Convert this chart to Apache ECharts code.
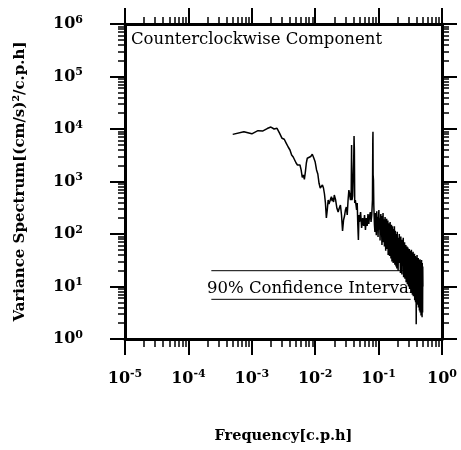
<!DOCTYPE html>
<html>
<head>
<meta charset="utf-8">
<script src="https://cdn.jsdelivr.net/npm/echarts@6/dist/echarts.min.js"></script>
<style>html,body{margin:0;padding:0;background:#fff}#c{width:461px;height:450px}</style>
</head>
<body>
<div id="c"></div>
<script>
// ---- data (frequency [c.p.h], variance spectrum) ----
var lowBand = [
  [0.0005,7900],[0.00075,8900],[0.001,8100],[0.00125,9300],[0.0015,9200],[0.00175,10200],[0.002,10900],[0.00225,10000],[0.0025,10300],[0.00275,8280],
  [0.003,6650],[0.00325,6370],[0.0035,5340],[0.00375,4540],[0.004,3980],[0.00425,3200],[0.0045,2930],[0.00475,2770],[0.005,2250],
  [0.00525,2060],[0.0055,1910],[0.00575,2060],[0.006,1660],[0.00625,1200],[0.0065,1330],[0.00675,1100],[0.007,1520],[0.00725,2250],[0.0075,2770],[0.00775,2870],[0.008,2930],
  [0.0085,2990],[0.009,3300],[0.0095,2800],[0.01,2350],
  [0.0105,1660],[0.011,1390],[0.0115,925],[0.012,752],[0.0125,689],[0.013,858],[0.0135,752],[0.014,578],[0.0145,389],[0.015,202],[0.0155,287],[0.016,444],[0.0165,373],[0.017,407],[0.0175,464],[0.018,513],[0.0185,425],[0.019,485],[0.0195,407],[0.02,553]
];
var tidalBand = [
  [0.021,444],[0.022,309],[0.023,262],[0.024,313],[0.025,357],[0.026,230],[0.027,114],[0.028,185],[0.029,220],[0.030,287],[0.031,327],[0.032,230],[0.033,444],[0.034,689],[0.035,553],[0.036,444],[0.037,689],[0.0375,4960],[0.038,444],[0.039,530],[0.0405,2570],[0.041,7360],[0.0415,3980],[0.042,389],[0.043,444],[0.044,357],[0.045,287],[0.046,389],[0.047,148],[0.048,77],[0.049,230],[0.050,169],[0.052,262],[0.054,130],[0.056,202],[0.058,142],[0.060,230],[0.062,119],[0.064,202],[0.066,142],[0.068,240],[0.070,155],[0.072,220],[0.074,262],[0.076,169],[0.078,230],[0.080,444],[0.081,6170],[0.0815,8890],[0.082,1330],[0.083,1068],[0.084,357],[0.086,148]
];
var highBand = [
  [0.0875,110],[0.089,250],[0.0905,160],[0.092,95],[0.0935,270],[0.095,140],[0.0965,210],[0.098,88],[0.0995,180],[0.101,285],
  [0.1025,120],[0.104,200],[0.1055,75],[0.107,160],[0.1085,240],[0.110,95],[0.1115,130],[0.113,62],[0.1145,220],[0.116,150],
  [0.1175,250],[0.119,70],[0.1205,115],[0.122,190],[0.1235,58],[0.125,140],[0.1265,210],[0.128,85],[0.1295,48],[0.131,170],
  [0.1325,100],[0.134,195],[0.1355,52],[0.137,125],[0.1385,72],[0.140,180],[0.1415,40],[0.143,110],[0.1445,160],[0.146,60],
  [0.1475,135],[0.149,38],[0.1505,95],[0.152,170],[0.1535,50],[0.155,120],[0.1565,34],[0.158,85],[0.1595,150],[0.161,65],
  [0.1625,30],[0.164,110],[0.1655,140],[0.167,45],[0.1685,80],[0.170,28],[0.1715,125],[0.173,60],[0.1745,100],[0.176,30],
  [0.1775,140],[0.179,48],[0.1805,26],[0.182,90],[0.1835,115],[0.185,35],[0.1865,70],[0.188,24],[0.1895,100],[0.191,42],
  [0.1925,85],[0.194,22],[0.1955,60],[0.197,110],[0.1985,30],[0.200,75],
  [0.203,20],[0.206,85],[0.209,40],[0.212,100],[0.215,28],[0.218,65],[0.221,18],[0.224,90],[0.227,35],[0.230,55],
  [0.233,17],[0.236,78],[0.239,26],[0.242,60],[0.245,85],[0.248,15],[0.251,45],[0.254,22],[0.257,70],[0.260,14],
  [0.263,50],[0.266,33],[0.269,62],[0.272,12],[0.275,40],[0.278,20],[0.281,58],[0.284,11],[0.287,36],[0.290,55],
  [0.293,16],[0.296,10],[0.299,45],[0.302,25],[0.305,52],[0.308,9],[0.311,30],[0.314,48],[0.317,13],[0.320,38],
  [0.323,7.5],[0.326,28],[0.329,50],[0.332,11],[0.335,20],[0.338,44],[0.341,7],[0.344,32],[0.347,14],[0.350,46],
  [0.353,6.5],[0.356,25],[0.359,40],[0.362,9],[0.365,18],[0.368,42],[0.371,5.5],[0.374,30],[0.377,12],[0.380,38],
  [0.383,5],[0.386,22],[0.389,36],[0.392,1.9],[0.395,15],[0.398,33],[0.401,6],[0.404,40],[0.407,8],[0.410,24],
  [0.413,4.5],[0.416,30],[0.419,10],[0.422,35],[0.425,4],[0.428,18],[0.431,32],[0.434,6],[0.437,22],[0.440,3.5],
  [0.443,28],[0.446,9],[0.449,33],[0.452,3.2],[0.455,20],[0.458,5],[0.461,30],[0.464,12],[0.467,2.8],[0.470,26],
  [0.473,6],[0.476,32],[0.479,3],[0.482,18],[0.485,2.6],[0.488,28],[0.491,8],[0.494,3.2],[0.497,24],[0.500,10]
];
// 90% confidence interval bar
var ciRange = [0.00023, 0.32];
var ciUpper = 20;
var ciLower = 5.7;
// axis decades (exponents)
var xDecades = [-5, -4, -3, -2, -1, 0];
var yDecades = [0, 1, 2, 3, 4, 5, 6];
var titleText = 'Counterclockwise Component';
var ciText = '90% Confidence Interval';
var xName = 'Frequency[c.p.h]';
var yName = 'Variance Spectrum[(cm/s)\u00b2/c.p.h]';

// ---- build ----
function minorList(decs) {
  var out = [];
  for (var i = 0; i < decs.length - 1; i++)
    for (var k = 2; k <= 9; k++) out.push(decs[i] + Math.log10(k));
  return out;
}
var xMinor = minorList(xDecades), yMinor = minorList(yDecades);
var FONT = 'DejaVu Serif';
var rich = {
  b: {fontFamily: FONT, fontWeight: 'bold', fontSize: 16, color: '#000', lineHeight: 19},
  s: {fontFamily: FONT, fontWeight: 'bold', fontSize: 11, color: '#000', lineHeight: 11, verticalAlign: 'top'}
};
function powLabel(v) { return '{b|10}{s|' + Math.round(v) + '}'; }
var black = '#000';
function decoAxis(extra) {
  var base = {
    type: 'value', gridIndex: 0, silent: true,
    splitLine: {show: false},
    axisLine: {show: false, onZero: false},
    axisTick: {show: false},
    axisLabel: {show: false}
  };
  for (var k in extra) base[k] = extra[k];
  return base;
}
var chart = echarts.init(document.getElementById('c'));
var spectrum = lowBand.concat(tidalBand, highBand);
chart.setOption({
  animation: false,
  backgroundColor: '#fff',
  grid: {left: 125, right: 19, top: 24, bottom: 111},
  xAxis: [
    {type: 'log', logBase: 10, min: 1e-5, max: 1, position: 'bottom',
     axisLine: {show: true, onZero: false, lineStyle: {color: black, width: 3}},
     axisTick: {show: false}, axisLabel: {show: false}, splitLine: {show: false}, minorTick: {show: false},
     name: xName, nameLocation: 'middle', nameGap: 90,
     nameTextStyle: {fontFamily: FONT, fontWeight: 'bold', fontSize: 14.5, color: black}},
    decoAxis({min: -5, max: 0, position: 'bottom',
      axisTick: {show: true, customValues: xDecades, length: 16, lineStyle: {color: black, width: 2}},
      axisLabel: {show: true, customValues: xDecades, margin: 30, formatter: powLabel, rich: rich}}),
    decoAxis({min: -5, max: 0, position: 'bottom',
      axisTick: {show: true, customValues: xMinor, length: 8, lineStyle: {color: black, width: 1.5}}}),
    decoAxis({min: -5, max: 0, position: 'top',
      axisLine: {show: true, onZero: false, lineStyle: {color: black, width: 3}},
      axisTick: {show: true, customValues: xDecades, length: 16, lineStyle: {color: black, width: 2}}}),
    decoAxis({min: -5, max: 0, position: 'top',
      axisTick: {show: true, customValues: xMinor, length: 7, lineStyle: {color: black, width: 1.5}}})
  ],
  yAxis: [
    {type: 'log', logBase: 10, min: 1, max: 1e6, position: 'left',
     axisLine: {show: true, onZero: false, lineStyle: {color: black, width: 3}},
     axisTick: {show: false}, axisLabel: {show: false}, splitLine: {show: false}, minorTick: {show: false},
     name: yName, nameLocation: 'middle', nameGap: 97, nameRotate: 90,
     nameTextStyle: {fontFamily: FONT, fontWeight: 'bold', fontSize: 15, color: black}},
    decoAxis({min: 0, max: 6, position: 'left',
      axisTick: {show: true, customValues: yDecades, length: 15, lineStyle: {color: black, width: 2}},
      axisLabel: {show: true, customValues: yDecades, margin: 42, formatter: powLabel, rich: rich}}),
    decoAxis({min: 0, max: 6, position: 'left',
      axisTick: {show: true, customValues: yMinor, length: 7, lineStyle: {color: black, width: 1.5}}}),
    decoAxis({min: 0, max: 6, position: 'right',
      axisLine: {show: true, onZero: false, lineStyle: {color: black, width: 3}},
      axisTick: {show: true, customValues: yDecades, length: 15, lineStyle: {color: black, width: 2}}}),
    decoAxis({min: 0, max: 6, position: 'right',
      axisTick: {show: true, customValues: yMinor, length: 7, lineStyle: {color: black, width: 1.5}}})
  ],
  graphic: [
    {type: 'text', left: 131, top: 31, z: 0,
     style: {text: titleText, font: '16.5px "' + FONT + '"', fill: black}},
    {type: 'text', left: 207, top: 280, z: 0,
     style: {text: ciText, font: '16.5px "' + FONT + '"', fill: black}}
  ],
  series: [
    {type: 'line', name: 'ci-upper', xAxisIndex: 0, yAxisIndex: 0, data: [[ciRange[0], ciUpper], [ciRange[1], ciUpper]],
     showSymbol: false, lineStyle: {color: black, width: 1}, z: 1, silent: true},
    {type: 'line', name: 'ci-lower', xAxisIndex: 0, yAxisIndex: 0, data: [[ciRange[0], ciLower], [ciRange[1], ciLower]],
     showSymbol: false, lineStyle: {color: black, width: 1}, z: 1, silent: true},
    {type: 'line', name: 'spectrum', xAxisIndex: 0, yAxisIndex: 0, data: spectrum,
     showSymbol: false, lineStyle: {color: black, width: 1.5}, z: 5, silent: true}
  ]
});
</script>
</body>
</html>
